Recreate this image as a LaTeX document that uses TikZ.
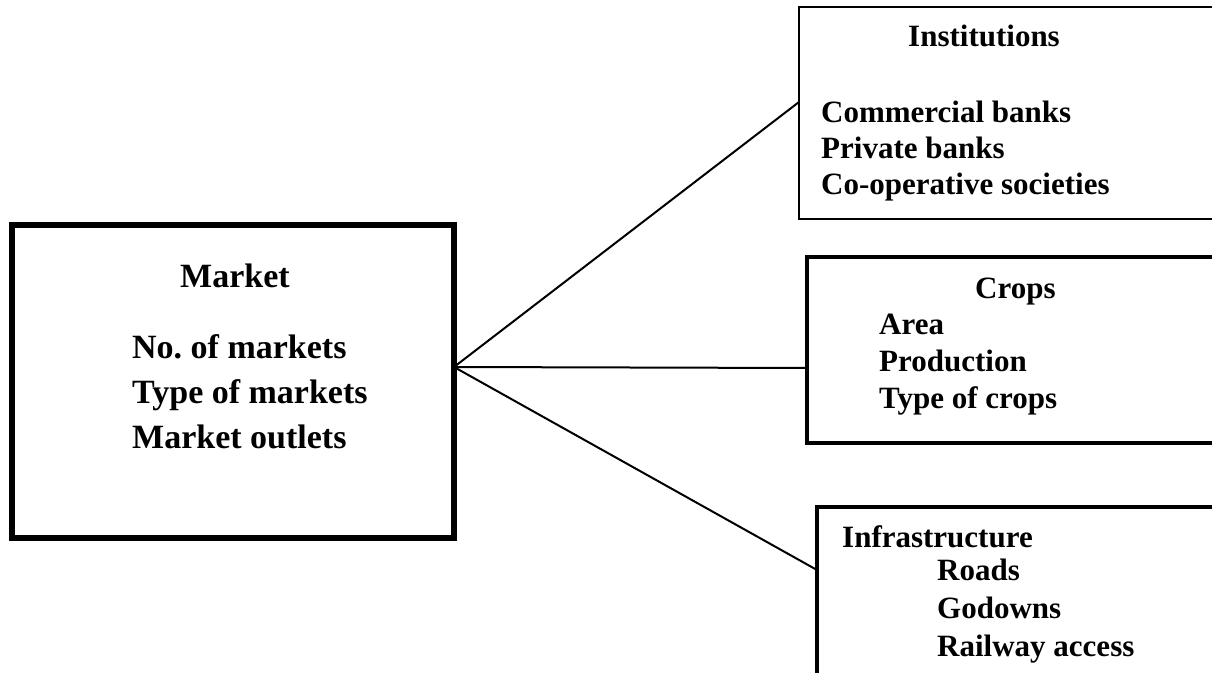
\documentclass[tikz,border=0pt]{standalone}
\usepackage{fontspec}
\setmainfont{Liberation Serif}
\frenchspacing
\begin{document}
\begin{tikzpicture}[x=1bp,y=-1bp,
  box/.style={draw=black,fill=none,inner sep=0pt,outer sep=0pt},
  link/.style={draw=black,line width=2bp},
  bigtxt/.style={anchor=base west,inner sep=0pt,font=\fontsize{34bp}{40bp}\selectfont\bfseries},
  txt/.style={anchor=base west,inner sep=0pt,font=\fontsize{31bp}{36bp}\selectfont\bfseries}]
\useasboundingbox (0,0) rectangle (1212,673);
\clip (0,0) rectangle (1212,673);

% boxes
\node[box,line width=6bp,minimum width=442bp,minimum height=313bp] (m) at (233,381.5) {};
\node[box,line width=2.5bp,minimum width=441bp,minimum height=212bp] (inst) at (1019.5,113) {};
\node[box,line width=4bp,minimum width=433bp,minimum height=186bp] (crops) at (1023.5,350) {};
\node[box,line width=4bp,minimum width=423bp,minimum height=193bp] (infra) at (1028.5,603.5) {};

% connectors
\draw[link] ([yshift=14.5bp]m.east) -- ([yshift=11bp]inst.west);
\draw[link] ([yshift=14.5bp]m.east) -- ([yshift=-18bp]crops.west);
\draw[link] ([yshift=14.5bp]m.east) -- ([yshift=33.5bp]infra.west);

% market
\node[bigtxt] (mt) at (180,287) {Market};
\node[bigtxt] (m1) at (132,358) {No. of markets};
\node[bigtxt] (m2) at (132,403) {Type of markets};
\node[bigtxt] (m3) at (132,448) {Market outlets};

% institutions
\node[txt] (it) at (908,47) {Institutions};
\node[txt] (i1) at (821,123) {Commercial banks};
\node[txt] (i2) at (821,159) {Private banks};
\node[txt] (i3) at (821,195) {Co-operative societies};

% crops
\node[txt] (ct) at (975,298) {Crops};
\node[txt] (c1) at (879,334) {Area};
\node[txt] (c2) at (879,371) {Production};
\node[txt] (c3) at (879,408) {Type of crops};

% infrastructure
\node[txt] (ft) at (842,547) {Infrastructure};
\node[txt] (f1) at (937,580) {Roads};
\node[txt] (f2) at (937,618) {Godowns};
\node[txt] (f3) at (937,656) {Railway access};
\end{tikzpicture}
\end{document}
